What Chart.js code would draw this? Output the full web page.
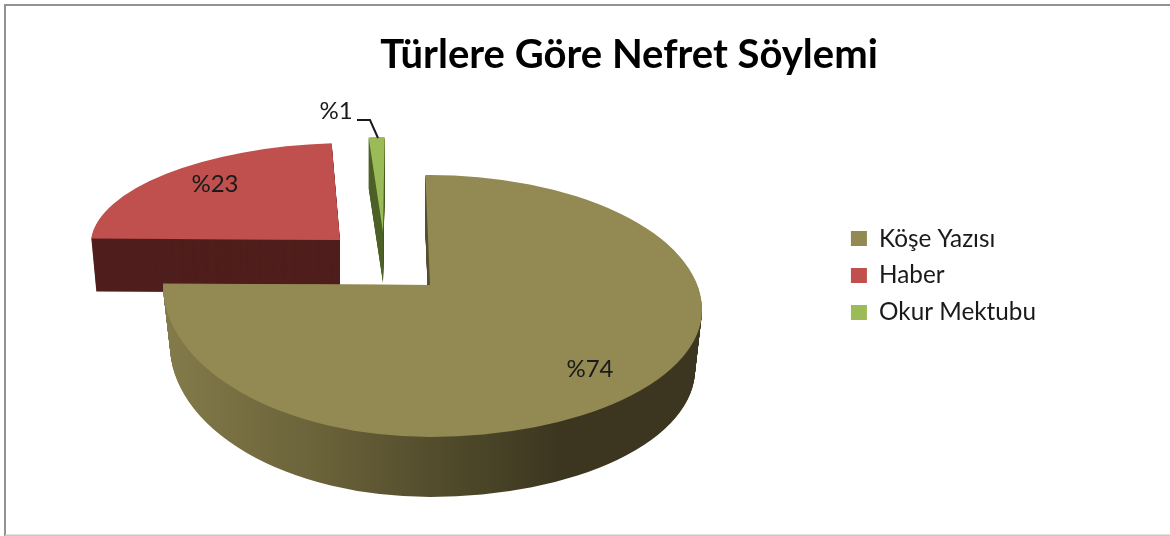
<!DOCTYPE html>
<html lang="tr">
<head>
<meta charset="utf-8">
<title>Türlere Göre Nefret Söylemi</title>
<script src="https://cdn.jsdelivr.net/npm/chart.js@4"></script>
<style>
    html, body { margin: 0; padding: 0; background: #fff; }
    canvas { display: block; }
</style>
</head>
<body>
<canvas id="pie" width="1170" height="536"></canvas>
<script>
const chartTitle = "Türlere Göre Nefret Söylemi";
const categories = ["Köşe Yazısı", "Haber", "Okur Mektubu"];
const shares = [74, 23, 1];
const sliceColors = ["#938953", "#c0504d", "#9bbb59"];

// exploded 3d look: where each slice sits on the page, drawn in this order (back to front)
const drawOrder = [1, 2, 0];
const sliceShape = [
    { ax: 430, ay: 285, rxL: 267, rxR: 272, ryUp: 110, ryDown: 152, shear: 0, dropR: 25, depth: 60, taper: 7, side: null },
    { ax: 340, ay: 240, rxL: 249, rxR: 249, ryUp: 97, ryDown: 97, shear: 12, dropR: 0, depth: 53, taper: 5, side: "#4f1f1d" },
    { ax: 383, ay: 232, rxL: 250, rxR: 250, ryUp: 95, ryDown: 95, shear: 6, dropR: 0, depth: 51, taper: 0, side: "#4f6228" },
];
// shading of the round wall of the big slice, left to right
const wallStops = [[165, "#837b4a"], [320, "#6a6239"], [460, "#4e482a"], [560, "#3c3620"], [702, "#3c3620"]];
const labelSpots = [[590, 369], [215, 184], [336, 111]];

function paintSlice(chart, el, s, fill, dy) {
    const ctx = chart.ctx;
    const R = el.outerRadius;
    const shrink = s.taper * dy / s.depth;
    // four quarters so the ellipse can be uneven like the perspective in the picture
    const quarters = [
        [s.rxL, s.ryUp, 0, -1, -1],
        [s.rxR, s.ryUp + s.dropR, s.dropR, 1, -1],
        [s.rxL, s.ryDown, 0, -1, 1],
        [s.rxR, s.ryDown - s.dropR, s.dropR, 1, 1],
    ];
    quarters.forEach(([rx, ry, drop, sx, sy]) => {
        ctx.save();
        const a = (rx - shrink) / R, c = -s.shear / R, d = ry / R;
        ctx.transform(a, 0, c, d, s.ax - a * el.x - c * el.y, s.ay + drop + dy - d * el.y);
        ctx.beginPath();
        // lower quarters overlap the seam a little
        const top = sy < 0 ? el.y - 2 * R : el.y - 1;
        const left = sx < 0 ? el.x - 2 * R : el.x;
        ctx.rect(left, top, 2 * R, sy < 0 ? 2 * R : 2 * R + 1);
        ctx.clip();
        let style = fill;
        if (Array.isArray(fill)) {
            const last = fill[fill.length - 1][0];
            const toLocal = (x) => (x - s.ax) / a + el.x;
            style = ctx.createLinearGradient(toLocal(fill[0][0]), 0, toLocal(last), 0);
            fill.forEach(([x, col]) => style.addColorStop((x - fill[0][0]) / (last - fill[0][0]), col));
        }
        const saved = el.options;
        el.options = { ...saved, backgroundColor: style, borderWidth: 0 };
        el.draw(ctx);
        el.options = saved;
        ctx.restore();
    });
}

const pie3d = {
    id: "pie3d",
    beforeDraw(chart) {
        const ctx = chart.ctx;
        ctx.save();
        ctx.fillStyle = "#fff";
        ctx.fillRect(0, 0, chart.width, chart.height);
        ctx.strokeStyle = "#929292";
        ctx.lineWidth = 2;
        ctx.beginPath();
        ctx.moveTo(5, chart.height);
        ctx.lineTo(5, 5);
        ctx.lineTo(chart.width, 5);
        ctx.stroke();
        ctx.strokeStyle = "#c8c8c8";
        ctx.beginPath();
        ctx.moveTo(5, chart.height - 0.5);
        ctx.lineTo(chart.width, chart.height - 0.5);
        ctx.stroke();
        ctx.restore();
    },
    beforeDatasetsDraw(chart) {
        const arcs = chart.getDatasetMeta(0).data;
        drawOrder.forEach((i) => {
            const s = sliceShape[i];
            for (let d = s.depth; d > 0; d--) {
                paintSlice(chart, arcs[i], s, s.side || wallStops, d);
            }
            paintSlice(chart, arcs[i], s, sliceColors[i], 0);
        });
        return false;
    },
    afterDraw(chart) {
        const ctx = chart.ctx;
        ctx.save();
        ctx.fillStyle = "#1a1a1a";
        ctx.font = "24px Lato";
        ctx.textAlign = "center";
        ctx.textBaseline = "middle";
        shares.forEach((v, i) => ctx.fillText("%" + v, labelSpots[i][0], labelSpots[i][1]));
        // leader line for the thin slice
        ctx.strokeStyle = "#1a1a1a";
        ctx.lineWidth = 2;
        ctx.beginPath();
        ctx.moveTo(357, 120);
        ctx.lineTo(370, 120);
        ctx.lineTo(378, 138);
        ctx.stroke();
        // legend swatches sit closer to the text than the library's gap allows
        chart.legend.legendHitBoxes.forEach((hit, i) => {
            ctx.fillStyle = sliceColors[i];
            ctx.fillRect(hit.left + 5, Math.round(hit.top + hit.height / 2 - 7.5), 16, 15);
        });
        ctx.restore();
    },
};

new Chart(document.getElementById("pie"), {
    type: "pie",
    data: {
        labels: categories,
        datasets: [{ data: shares, backgroundColor: sliceColors, borderWidth: 0 }],
    },
    options: {
        responsive: false,
        animation: false,
        rotation: -1,
        layout: { padding: { left: 212, right: 124, top: 25, bottom: 10 } },
        plugins: {
            tooltip: { enabled: false },
            title: {
                display: true,
                text: chartTitle,
                color: "#000",
                font: { family: "Lato", size: 40, weight: "bold" },
                padding: { top: 6, bottom: 6 },
            },
            legend: {
                position: "right",
                labels: {
                    color: "#1a1a1a",
                    font: { family: "Lato", size: 24.3 },
                    boxWidth: 21,
                    boxHeight: 15,
                    padding: 12.5,
                    generateLabels(chart) {
                        const items = Chart.overrides.pie.plugins.legend.labels.generateLabels(chart);
                        items.forEach((it) => { it.fillStyle = "transparent"; it.strokeStyle = "transparent"; });
                        return items;
                    },
                },
            },
        },
    },
    plugins: [pie3d],
});
</script>
</body>
</html>
